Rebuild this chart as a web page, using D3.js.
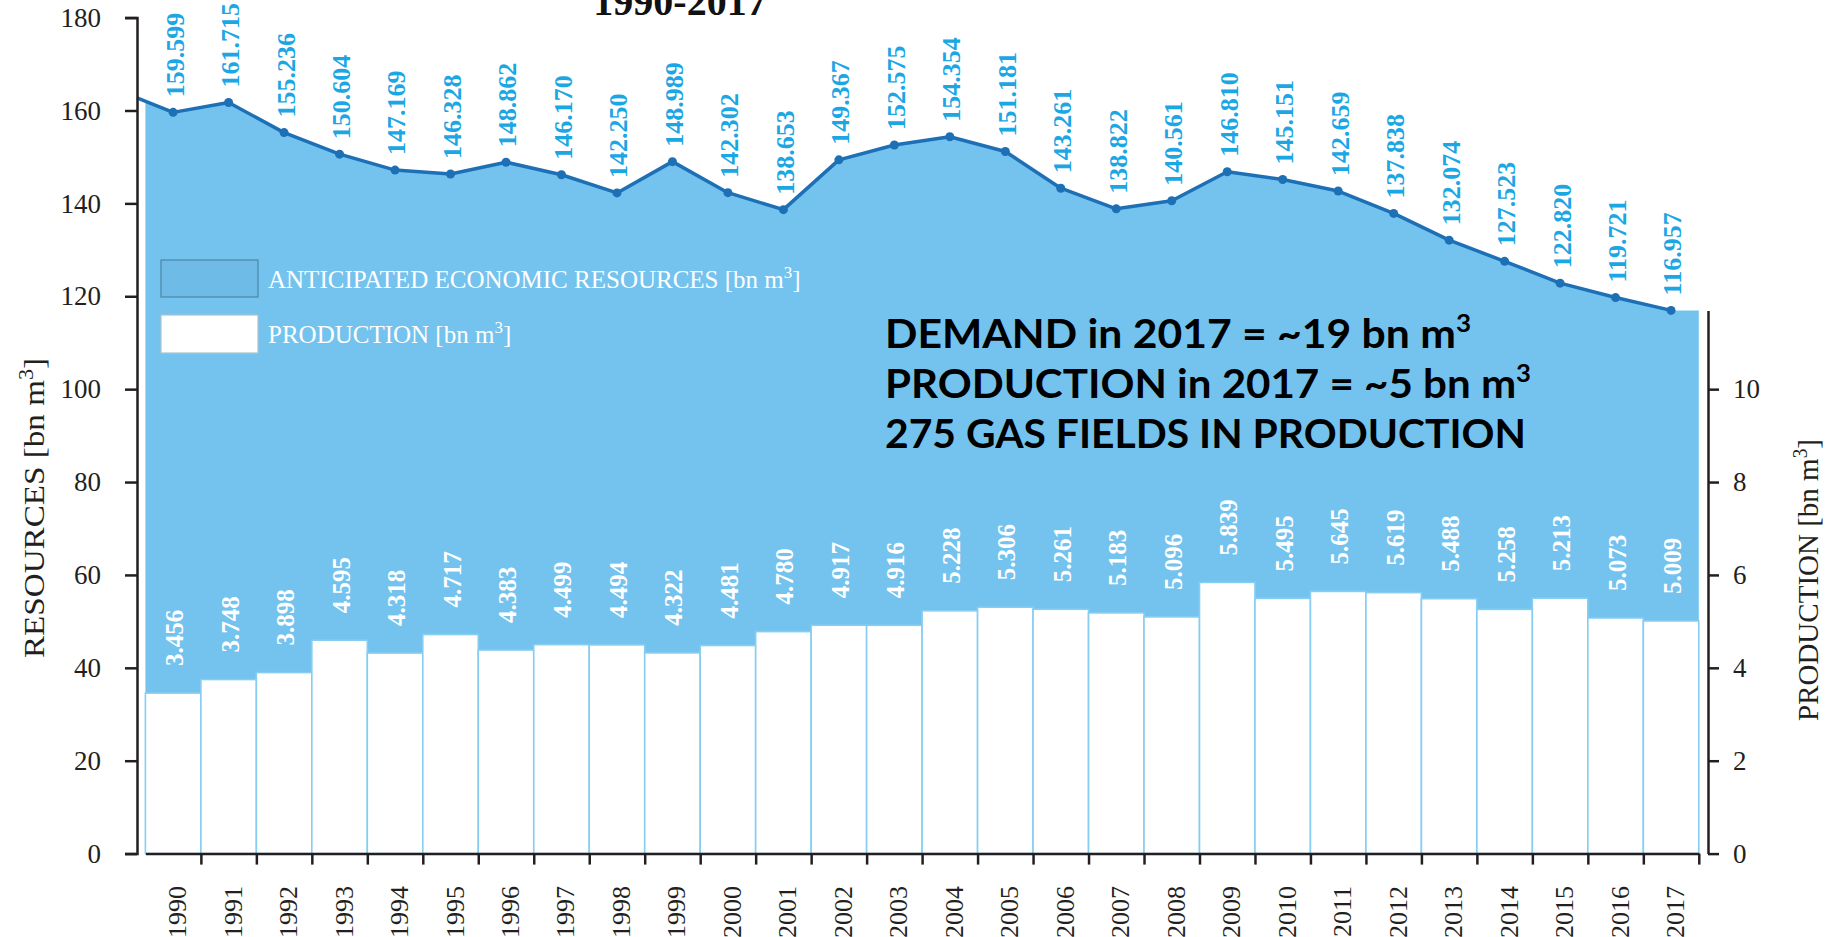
<!DOCTYPE html>
<html>
<head>
<meta charset="utf-8">
<script src="https://cdn.jsdelivr.net/npm/d3@7"></script>
<style>
html,body{margin:0;padding:0;background:#fff;}
svg{display:block;}
</style>
</head>
<body>
<div id="chart"></div>
<script>
// ── DONNÉES ───────────────────────────────────────────────
const years=d3.range(1990,2018);
const resources=[159.599,161.715,155.236,150.604,147.169,146.328,148.862,146.170,142.250,148.989,
  142.302,138.653,149.367,152.575,154.354,151.181,143.261,138.822,140.561,146.810,
  145.151,142.659,137.838,132.074,127.523,122.820,119.721,116.957];
const production=[3.456,3.748,3.898,4.595,4.318,4.717,4.383,4.499,4.494,4.322,
  4.481,4.780,4.917,4.916,5.228,5.306,5.261,5.183,5.096,5.839,
  5.495,5.645,5.619,5.488,5.258,5.213,5.073,5.009];
// bar heights as drawn in the picture (2015 bar stands higher than its label)
const prodBars=[3.456,3.748,3.898,4.595,4.318,4.717,4.383,4.499,4.494,4.322,
  4.481,4.780,4.917,4.916,5.228,5.306,5.261,5.183,5.096,5.839,
  5.495,5.645,5.619,5.488,5.258,5.50,5.073,5.009];
const resStart=162.7;               // line value where it meets the left axis
const leftTicks=[0,20,40,60,80,100,120,140,160,180];
const rightTicks=[0,2,4,6,8,10];
const notes=["DEMAND in 2017 = ~19 bn m","PRODUCTION in 2017 = ~5 bn m","275 GAS FIELDS IN PRODUCTION"];
const noteSup=["3","3",""];
const legendItems=["ANTICIPATED ECONOMIC RESOURCES [bn m","PRODUCTION [bn m"];

const W=1836,H=937;
const AX=137,X0=145.4,X1=1698.8,RAX=1708,Y0=853.6,YT=17.6;
const SERIF="'Liberation Serif','Times New Roman',serif";
const INK="#231f20",AREA="#74c3ee",LINE="#1d70b5",LAB="#1ba6e4",SEP="#86cdf1";

const svg=d3.select("#chart").append("svg").attr("width",W).attr("height",H).style("background","#fff");

// ── ÉCHELLES ──────────────────────────────────────────────
const y=d3.scaleLinear().domain([0,180]).range([Y0,YT]);
const yP=d3.scaleLinear().domain([0,18]).range([Y0,YT]);
const x=d3.scaleBand().domain(years).range([X0,X1]).padding(0);
const xe=d3.scaleLinear().domain([0,years.length]).range([X0,X1]);
const cx=yr=>x(yr)+x.bandwidth()/2;

// ── SURFACE RESSOURCES ────────────────────────────────────
const startY=d3.scaleLinear().domain([AX,cx(years[0])]).range([resStart,resources[0]]);
const areaPts=[[X0,startY(X0)]].concat(years.map((yr,i)=>[cx(yr),resources[i]]),[[X1,resources[resources.length-1]]]);
svg.append("path").datum(areaPts).attr("fill",AREA)
  .attr("d",d3.area().x(d=>d[0]).y0(y(0)).y1(d=>y(d[1])));

// ── BARRES PRODUCTION ─────────────────────────────────────
svg.append("g").selectAll("rect").data(years).join("rect")
  .attr("x",d=>x(d)).attr("width",x.bandwidth())
  .attr("y",(d,i)=>yP(prodBars[i])).attr("height",(d,i)=>Y0-yP(prodBars[i]))
  .attr("fill","#fff").attr("stroke",SEP).attr("stroke-width",1.6);

// ── LIGNE ─────────────────────────────────────────────────
const linePts=[[AX,resStart]].concat(years.map((yr,i)=>[cx(yr),resources[i]]));
svg.append("path").datum(linePts).attr("fill","none").attr("stroke",LINE).attr("stroke-width",3.5)
  .attr("stroke-linejoin","round").attr("d",d3.line().x(d=>d[0]).y(d=>y(d[1])));
svg.append("g").selectAll("circle").data(years).join("circle")
  .attr("cx",d=>cx(d)).attr("cy",(d,i)=>y(resources[i])).attr("r",4.5).attr("fill",LINE);

// ── ÉTIQUETTES ────────────────────────────────────────────
svg.append("g").selectAll("text").data(years).join("text")
  .attr("transform",(d,i)=>`translate(${cx(d)},${y(resources[i])-15}) rotate(-90)`)
  .attr("dy","0.4em").attr("font-family",SERIF).attr("font-weight","bold").attr("font-size",26)
  .attr("fill",LAB).text((d,i)=>resources[i].toFixed(3));
svg.append("g").selectAll("text").data(years).join("text")
  .attr("transform",(d,i)=>`translate(${cx(d)},${yP(prodBars[i])-27}) rotate(-90)`)
  .attr("dy","0.4em").attr("font-family",SERIF).attr("font-weight","bold").attr("font-size",25)
  .attr("fill","#fff").text((d,i)=>production[i].toFixed(3));

// ── AXES ──────────────────────────────────────────────────
const styleAxis=g=>{
  g.selectAll("path,line").attr("stroke",INK).attr("stroke-width",2.5);
  g.selectAll("text").attr("font-family",SERIF).attr("font-size",27).attr("fill",INK);
};
svg.append("g").attr("transform",`translate(${AX},0)`)
  .call(d3.axisLeft(y).tickValues(leftTicks).tickSize(12).tickPadding(24)).call(styleAxis);

const y2=d3.scaleLinear().domain([0,resources[resources.length-1]/10]).range([Y0,y(resources[resources.length-1])]);
svg.append("g").attr("transform",`translate(${RAX},0)`)
  .call(d3.axisRight(y2).tickValues(rightTicks).tickSize(11).tickSizeOuter(0).tickPadding(14)).call(styleAxis);

svg.append("g").attr("transform",`translate(0,${Y0})`)
  .call(d3.axisBottom(xe).tickValues(d3.range(1,years.length+1)).tickFormat("").tickSize(11).tickSizeOuter(0))
  .call(styleAxis);

svg.append("g").selectAll("text").data(years).join("text")
  .attr("transform",d=>`translate(${cx(d)},886) rotate(-90)`)
  .attr("dy","0.5em").attr("text-anchor","end").attr("font-family",SERIF).attr("font-size",26)
  .attr("fill",INK).text(d=>d);

// ── TITRES D'AXES ─────────────────────────────────────────
const axTitle=(tx,ty,label,len)=>{
  const t=svg.append("text").attr("transform",`translate(${tx},${ty}) rotate(-90)`)
    .attr("text-anchor","middle").attr("font-family",SERIF).attr("font-size",30).attr("fill",INK)
    .attr("textLength",len).attr("lengthAdjust","spacingAndGlyphs");
  t.append("tspan").text(label);
  t.append("tspan").attr("dy",-11).attr("font-size",20).text("3");
  t.append("tspan").attr("dy",11).text("]");
};
axTitle(44,508,"RESOURCES [bn m",300);
axTitle(1818,580,"PRODUCTION [bn m",282);

// ── TITRE ─────────────────────────────────────────────────
svg.append("text").attr("x",680).attr("y",15).attr("text-anchor","middle")
  .attr("font-family",SERIF).attr("font-weight","bold").attr("font-size",40).attr("fill","#111")
  .text("1990-2017");

// ── LÉGENDE ───────────────────────────────────────────────
const lg=svg.append("g");
lg.append("rect").attr("x",161).attr("y",260).attr("width",97).attr("height",37)
  .attr("fill","#6dbbe6").attr("stroke","#4d86a8").attr("stroke-width",1.2);
lg.append("rect").attr("x",161).attr("y",315).attr("width",97).attr("height",38)
  .attr("fill","#fff").attr("stroke","#a9c3d3").attr("stroke-width",1.2);
legendItems.forEach((s,i)=>{
  const t=lg.append("text").attr("x",268).attr("y",288+i*55)
    .attr("font-family",SERIF).attr("font-size",25).attr("fill","#fff");
  t.append("tspan").text(s);
  t.append("tspan").attr("dy",-10).attr("font-size",17).text("3");
  t.append("tspan").attr("dy",10).text("]");
});

// ── ANNOTATION ────────────────────────────────────────────
const noteLen=[586,646,641];
notes.forEach((s,i)=>{
  const t=svg.append("text").attr("x",885).attr("y",348+i*50)
    .attr("font-family","Lato,'Open Sans',sans-serif").attr("font-weight","bold").attr("font-size",41)
    .attr("fill","#000").attr("textLength",noteLen[i]).attr("lengthAdjust","spacingAndGlyphs");
  t.append("tspan").text(s);
  if(noteSup[i])t.append("tspan").attr("dy",-16).attr("font-size",25).text(noteSup[i]);
});
</script>
</body>
</html>
